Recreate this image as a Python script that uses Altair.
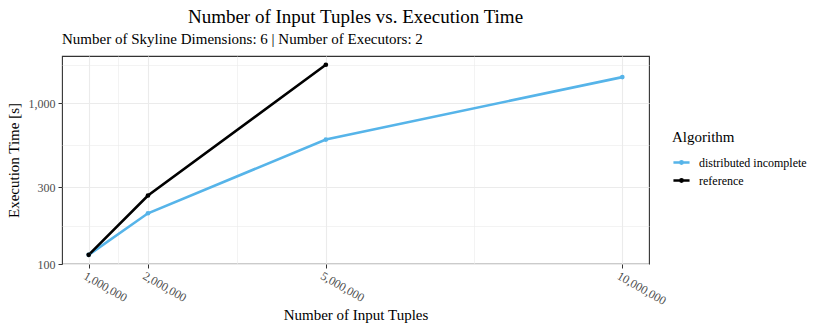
import altair as alt
import pandas as pd

# ---- data ----
dist_tuples = [1_000_000, 2_000_000, 5_000_000, 10_000_000]
dist_times = [114, 207, 596, 1459]
ref_tuples = [1_000_000, 2_000_000, 5_000_000]
ref_times = [114, 267, 1742]
series_names = ["distributed incomplete", "reference"]
series_colors = ["#56B4E9", "#000000"]

x_major = [1_000_000, 2_000_000, 5_000_000, 10_000_000]
x_minor = [1_500_000, 3_500_000, 7_500_000]
y_major = [100, 300, 1000]
y_minor = [173.2, 547.7, 1732.1]

title_text = "Number of Input Tuples vs. Execution Time"
subtitle_text = "Number of Skyline Dimensions: 6 | Number of Executors: 2"

df = pd.concat([
    pd.DataFrame({"tuples": dist_tuples, "time": dist_times, "Algorithm": series_names[0]}),
    pd.DataFrame({"tuples": ref_tuples, "time": ref_times, "Algorithm": series_names[1]}),
], ignore_index=True)

FONT = "Liberation Serif"
W, H = 587, 208

xmaj = "[" + ",".join(str(v) for v in x_major) + "]"
ymaj = "[" + ",".join(str(v) for v in y_major) + "]"

x_axis = alt.Axis(
    values=x_major + x_minor,
    labelExpr=f"indexof({xmaj}, datum.value) >= 0 ? format(datum.value, ',') : ''",
    labelAngle=30, labelAlign="left", labelBaseline="top",
    labelOverlap=False, labelFontSize=12, labelColor="#4d4d4d", labelFont=FONT,
    labelPadding=2, labelOffset=-2,
    tickColor={"condition": {"test": f"indexof({xmaj}, datum.value) < 0", "value": "transparent"}, "value": "#333333"},
    tickSize=4,
    gridColor="#ebebeb",
    gridWidth={"condition": {"test": f"indexof({xmaj}, datum.value) < 0", "value": 0.6}, "value": 1.1},
    domain=False,
    title="Number of Input Tuples", titleFontSize=15, titleFont=FONT, titleFontWeight="normal",
    titleColor="#000000", titlePadding=1,
)
y_axis = alt.Axis(
    values=y_major + y_minor,
    labelExpr=f"indexof({ymaj}, datum.value) >= 0 ? format(datum.value, ',') : ''",
    labelOverlap=False, labelFontSize=12, labelColor="#4d4d4d", labelFont=FONT,
    labelPadding=3,
    tickColor={"condition": {"test": f"indexof({ymaj}, datum.value) < 0", "value": "transparent"}, "value": "#333333"},
    tickSize=4,
    gridColor="#ebebeb",
    gridWidth={"condition": {"test": f"indexof({ymaj}, datum.value) < 0", "value": 0.6}, "value": 1.1},
    domain=False,
    title="Execution Time [s]", titleFontSize=15, titleFont=FONT, titleFontWeight="normal",
    titleColor="#000000", titlePadding=7,
)

legend_symbol = "M-1,0L1,0M-0.14,0A0.14,0.14 0 1 1 0.14,0A0.14,0.14 0 1 1 -0.14,0"

lines = alt.Chart(df).mark_line(strokeWidth=2.6, point=alt.OverlayMarkDef(size=22, filled=True)).encode(
    x=alt.X("tuples:Q", scale=alt.Scale(domain=[550_000, 10_450_000], nice=False, zero=False), axis=x_axis),
    y=alt.Y("time:Q", scale=alt.Scale(type="log", domain=[100, 1975], nice=False), axis=y_axis),
    color=alt.Color("Algorithm:N",
                    scale=alt.Scale(domain=series_names, range=series_colors),
                    legend=alt.Legend(orient="none", legendX=610, legendY=74,
                                      title="Algorithm", titleFont=FONT, titleFontSize=15,
                                      titleFontWeight="normal", titleColor="#000000",
                                      labelFont=FONT, labelFontSize=12, labelColor="#000000",
                                      symbolType=legend_symbol, symbolStrokeWidth=2.6, symbolSize=260,
                                      rowPadding=2, titlePadding=8, labelOffset=8)),
    order=alt.Order("Algorithm:N"),
)

main_title = alt.Chart(pd.DataFrame({"t": [title_text]})).mark_text(
    font=FONT, fontSize=19, color="#000000", align="center", baseline="alphabetic"
).encode(text="t:N", x=alt.value(W / 2), y=alt.value(-33))

sub_title = alt.Chart(pd.DataFrame({"t": [subtitle_text]})).mark_text(
    font=FONT, fontSize=15, color="#000000", align="left", baseline="alphabetic"
).encode(text="t:N", x=alt.value(0), y=alt.value(-12))

chart = alt.layer(lines, main_title, sub_title).properties(
    width=W, height=H,
    autosize=alt.AutoSizeParams(type="none"),
    padding={"left": 54, "top": 48, "right": 173, "bottom": 60},
).configure(background="white").configure_view(stroke="#333333", strokeWidth=1.1)

chart.save("out.html", embed_options={"renderer": "svg", "actions": False})
